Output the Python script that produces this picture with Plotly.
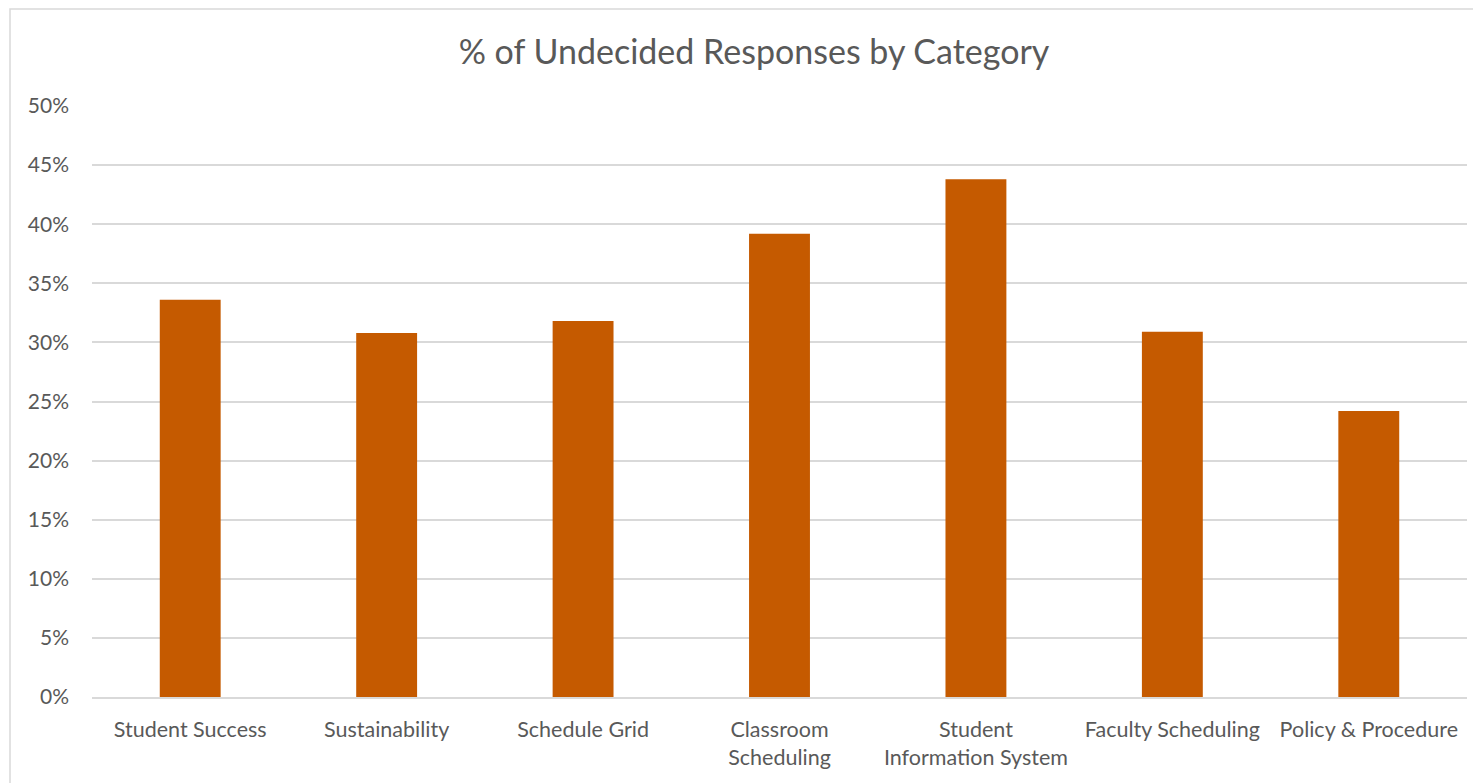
import plotly.graph_objects as go

categories = ["Student Success", "Sustainability", "Schedule Grid", "Classroom<br>Scheduling",
              "Student<br>Information System", "Faculty Scheduling", "Policy & Procedure"]
values = [0.336, 0.308, 0.318, 0.392, 0.438, 0.309, 0.242]
y_ticks = [0, 0.05, 0.10, 0.15, 0.20, 0.25, 0.30, 0.35, 0.40, 0.45, 0.50]

W, H = 1481, 783
OFF = 8  # page offset of the figure in the screenshot
L, T = 92 - OFF, 106 - OFF
R = W - (1467 - OFF)
B = H - (697 - OFF)
pw, ph = W - L - R, H - T - B

fig = go.Figure(go.Bar(x=categories, y=values, marker=dict(color="#C55A00", line=dict(width=0)),
                       width=0.31))

font_family = "Lato, 'Open Sans', sans-serif"
fig.update_layout(
    width=W, height=H,
    margin=dict(l=L, r=R, t=T, b=B),
    paper_bgcolor="white", plot_bgcolor="white",
    title=dict(text="% of Undecided Responses by Category", x=(754 - OFF) / W, xanchor="center",
               y=1 - (52 - OFF) / H, yanchor="middle", xref="container", yref="container",
               font=dict(family=font_family, size=34, color="#595959")),
    font=dict(family=font_family, color="#595959", size=21),
    showlegend=False,
    xaxis=dict(showgrid=False, showline=True, linecolor="#D9D9D9", linewidth=1.5,
               tickfont=dict(size=21.5, color="#595959"), ticks="outside", ticklen=8,
               tickcolor="rgba(0,0,0,0)", ticklabelstandoff=4),
    yaxis=dict(range=[0, 0.5], tickvals=y_ticks, tickformat=".0%", showgrid=True,
               gridcolor="#D9D9D9", gridwidth=1.5, zeroline=False, showline=False,
               tickfont=dict(size=21, color="#595959"), ticklabelstandoff=22),
    shapes=[dict(type="rect", xref="paper", yref="paper",
                 x0=(10 - OFF - L) / pw, x1=(W + 20 - L) / pw,
                 y0=(H - B - (H + 20)) / ph, y1=(H - B - 1) / ph,
                 line=dict(color="#D9D9D9", width=1.5), fillcolor="rgba(0,0,0,0)", layer="below")],
)

fig.write_html("out.html")
